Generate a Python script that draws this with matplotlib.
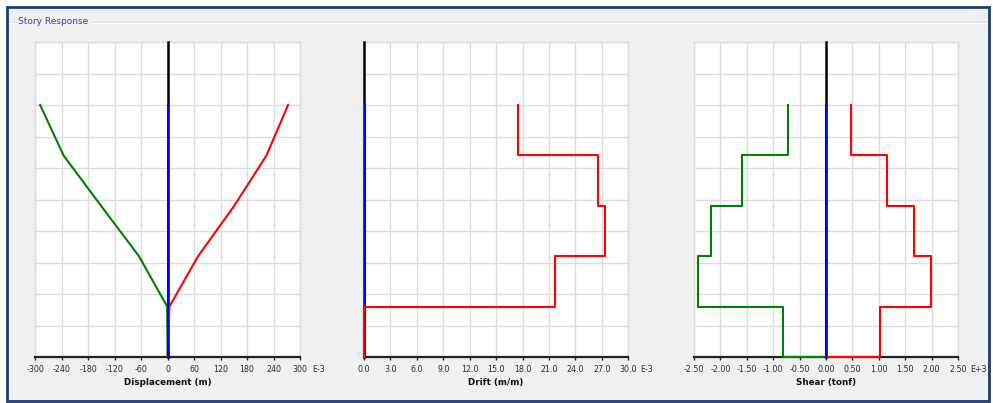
import matplotlib
matplotlib.use("Agg")
import matplotlib.pyplot as plt
from matplotlib.patches import Rectangle
from matplotlib.lines import Line2D
from matplotlib.transforms import ScaledTranslation

# Story elevations (m), base to roof
elevations = [0.0, 3.2, 6.4, 9.6, 12.8, 16.0]

# Displacement at each level (E-3 m), base to roof
disp_pos = [0, 4, 69, 151, 224, 273]
disp_neg = [0, -1, -65, -151, -236, -289]
disp_zero = [0, 0, 0, 0, 0, 0]

# Story drift (E-3 m/m), story 1 to story 5
drift_pos = [0.0, 21.7, 27.3, 26.6, 17.5]
drift_neg = [0.0, 0.0, 0.0, 0.0, 0.0]

# Story shear (E+3 tonf), story 1 to story 5
shear_pos = [1.02, 1.99, 1.66, 1.15, 0.47]
shear_neg = [-0.81, -2.42, -2.18, -1.59, -0.72]

disp_ticks = [-300, -240, -180, -120, -60, 0, 60, 120, 180, 240, 300]
drift_ticks = [0.0, 3.0, 6.0, 9.0, 12.0, 15.0, 18.0, 21.0, 24.0, 27.0, 30.0]
shear_ticks = [-2.5, -2.0, -1.5, -1.0, -0.5, 0.0, 0.5, 1.0, 1.5, 2.0, 2.5]

W, H = 993, 403
fig = plt.figure(figsize=(W / 100, H / 100), dpi=100)
fig.patch.set_facecolor("white")


def fx(px):
    return px / W


def fy(py):
    return 1 - py / H


# Window frame and group box
frame = Rectangle((fx(7), fy(401)), fx(989) - fx(7), fy(7) - fy(401),
                  transform=fig.transFigure, facecolor="#f0f0f0",
                  edgecolor="#1f3b6e", linewidth=2, zorder=-10)
fig.patches.append(frame)
for y, c in ((22, "#d5d5d5"), (23, "#ffffff")):
    fig.add_artist(Line2D([fx(10), fx(16)], [fy(y), fy(y)], color=c, lw=1,
                          transform=fig.transFigure, zorder=-5))
    fig.add_artist(Line2D([fx(92), fx(985)], [fy(y), fy(y)], color=c, lw=1,
                          transform=fig.transFigure, zorder=-5))
fig.text(fx(18), fy(21.5), "Story Response", color="#3c3ca8", fontsize=6.5,
         va="center", ha="left", family="DejaVu Sans")

panels = [
    dict(left=35.3, right=300.0, ticks=disp_ticks, fmt="{:.0f}", exp="E-3",
         title="Displacement (m)"),
    dict(left=364.0, right=628.3, ticks=drift_ticks, fmt="{:.1f}", exp="E-3",
         title="Drift (m/m)"),
    dict(left=694.0, right=958.0, ticks=shear_ticks, fmt="{:.2f}", exp="E+3",
         title="Shear (tonf)"),
]
top_px, bot_px = 42.0, 357.0
label_size = 5.7

axes = []
for p in panels:
    ax = fig.add_axes([fx(p["left"]), fy(bot_px), fx(p["right"]) - fx(p["left"]),
                       fy(top_px) - fy(bot_px)])
    ax.set_zorder(2)
    ax.set_facecolor("white")
    ax.set_xlim(p["ticks"][0], p["ticks"][-1])
    ax.set_ylim(0, 20)
    ax.set_xticks(p["ticks"])
    ax.set_xticklabels([p["fmt"].format(t) for t in p["ticks"]])
    ax.set_yticks(range(0, 21, 2))
    ax.tick_params(axis="y", length=0, labelleft=False)
    ax.tick_params(axis="x", direction="out", length=2.3, width=1, color="#222222",
                   pad=3.6, labelsize=label_size, labelcolor="#2a2a2a")
    ax.grid(True, color="#dcdcdc", lw=1.0)
    ax.set_axisbelow(True)
    for s in ("left", "right", "top"):
        ax.spines[s].set_color("#dcdcdc")
        ax.spines[s].set_linewidth(1.0)
        ax.spines[s].set_zorder(1.5)
    ax.spines["bottom"].set_color("#222222")
    ax.spines["bottom"].set_linewidth(1.6)
    ax.spines["bottom"].set_zorder(1.8)
    # zero reference line
    ax.axvline(0, color="black", lw=1.8, zorder=2, clip_on=False)
    cx = (p["left"] + p["right"]) / 2
    fig.text(fx(cx), fy(382.5), p["title"], ha="center", va="center",
             fontsize=6.3, fontweight="bold", color="#111111")
    fig.text(fx(p["right"] + 12), fy(369.0), p["exp"], ha="left", va="center",
             fontsize=label_size, color="#2a2a2a")
    axes.append(ax)


def story_path(values):
    """Step outline: each story drawn as a vertical segment at its value."""
    xs, ys = [], []
    for i in range(len(values) - 1, -1, -1):
        xs += [values[i], values[i]]
        ys += [elevations[i + 1], elevations[i]]
    xs.append(0)
    ys.append(elevations[0])
    return xs, ys


lw = 1.5
# Displacement
ax = axes[0]
ax.plot(disp_neg, elevations, color="#008000", lw=lw, zorder=3, clip_on=False)
ax.plot(disp_pos, elevations, color="#ff0000", lw=lw, zorder=3, clip_on=False)
ax.plot(disp_zero, elevations, color="#0000ff", lw=lw, zorder=4, clip_on=False)

# Drift
ax = axes[1]
gx, gy = story_path(drift_neg)
rx, ry = story_path(drift_pos)
ax.plot(gx, gy, color="#008000", lw=lw, zorder=3, clip_on=False)
ax.plot(rx, ry, color="#ff0000", lw=lw, zorder=4, clip_on=False)
ax.plot([0] * len(elevations), elevations, color="#0000ff", lw=lw, zorder=3.5,
        clip_on=False,
        transform=ax.transData + ScaledTranslation(1 / 100, 0, fig.dpi_scale_trans))

# Shear
ax = axes[2]
gx, gy = story_path(shear_neg)
rx, ry = story_path(shear_pos)
ax.plot(gx, gy, color="#008000", lw=lw, zorder=3, clip_on=False)
ax.plot(rx, ry, color="#ff0000", lw=lw, zorder=3, clip_on=False)
ax.plot([0] * len(elevations), elevations, color="#0000ff", lw=lw, zorder=4, clip_on=False)

fig.savefig("out.png", dpi=100, facecolor=fig.get_facecolor())
